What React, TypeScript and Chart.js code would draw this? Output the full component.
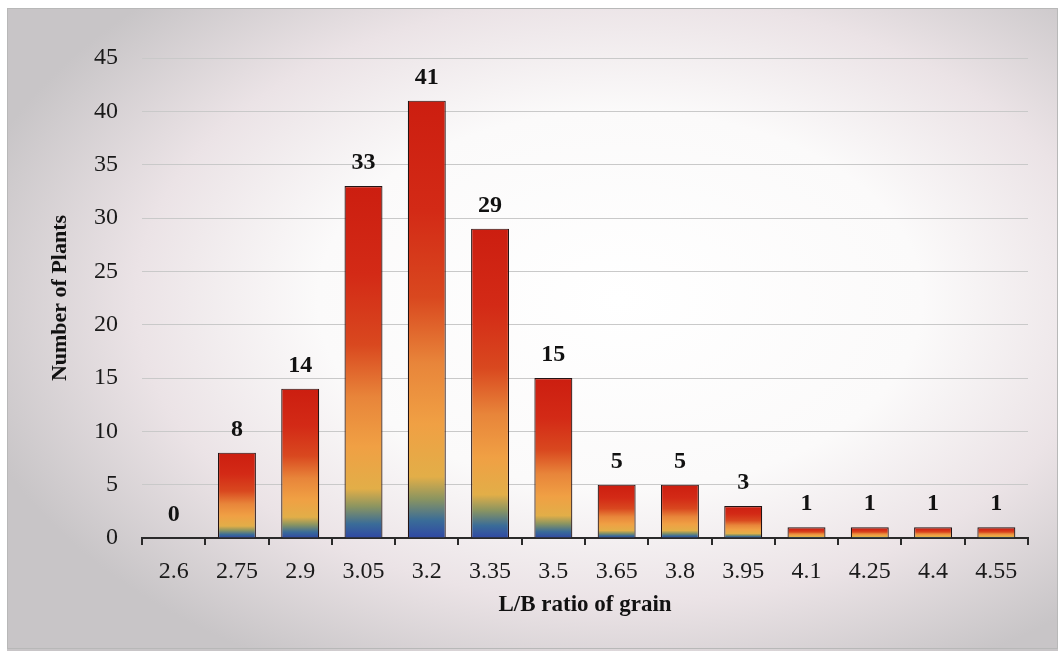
import React, { useEffect, useRef } from "react";
import { Chart, registerables } from "chart.js";

Chart.register(...registerables);

const categories = ["2.6", "2.75", "2.9", "3.05", "3.2", "3.35", "3.5", "3.65", "3.8", "3.95", "4.1", "4.25", "4.4", "4.55"];
const plantCounts = [0, 8, 14, 33, 41, 29, 15, 5, 5, 3, 1, 1, 1, 1];
const yTickStep = 5;
const yMax = 45;
const xTitle = "L/B ratio of grain";
const yTitle = "Number of Plants";

const FONT = "'Liberation Serif', 'Times New Roman', serif";

const gradientStops: [number, string][] = [
  [0, "#3048a4"],
  [0.04, "#3a6c98"],
  [0.09, "#8c9560"],
  [0.14, "#e2ae48"],
  [0.26, "#f0a044"],
  [0.4, "#e8853a"],
  [0.55, "#d9481f"],
  [0.75, "#d32a16"],
  [1, "#cc1e10"],
];

const backgroundPlugin = {
  id: "bgFrame",
  beforeDraw(chart: any) {
    const { ctx, width, height } = chart;
    ctx.save();
    ctx.fillStyle = "#ffffff";
    ctx.fillRect(0, 0, width, height);
    const cx = 620, cy = 300;
    ctx.translate(cx, cy);
    ctx.scale(1.6, 1);
    const g = ctx.createRadialGradient(0, 0, 0, 0, 0, 420);
    g.addColorStop(0, "#ffffff");
    g.addColorStop(0.45, "#fbfafa");
    g.addColorStop(0.72, "#ebe3e6");
    g.addColorStop(1, "#c8c5c7");
    ctx.fillStyle = g;
    ctx.fillRect(-cx / 1.6 - 10, -cy - 10, width / 1.6 + 20, height + 20);
    ctx.restore();
    ctx.save();
    ctx.fillStyle = "#ffffff";
    ctx.fillRect(0, 0, width, 8);
    ctx.fillRect(0, 0, 7, height);
    ctx.fillRect(1058, 0, width - 1058, height);
    ctx.strokeStyle = "#b8b8b8";
    ctx.lineWidth = 1;
    ctx.strokeRect(7.5, 8.5, 1050, 640);
    ctx.restore();
  },
};

const dataLabelPlugin = {
  id: "dataLabels",
  afterDatasetsDraw(chart: any) {
    const { ctx } = chart;
    const meta = chart.getDatasetMeta(0);
    ctx.save();
    ctx.font = `bold 24px ${FONT}`;
    ctx.fillStyle = "#111111";
    ctx.textAlign = "center";
    ctx.textBaseline = "alphabetic";
    meta.data.forEach((bar: any, i: number) => {
      ctx.fillText(String(plantCounts[i]), bar.x, bar.y - 17);
    });
    ctx.restore();
  },
};

export default function App() {
  const canvasRef = useRef<HTMLCanvasElement | null>(null);

  useEffect(() => {
    const canvas = canvasRef.current;
    if (!canvas) return;
    const chart = new Chart(canvas, {
      type: "bar",
      data: {
        labels: categories,
        datasets: [
          {
            data: plantCounts,
            backgroundColor: (c: any) => {
              const ch = c.chart;
              if (!ch.chartArea || c.raw === undefined) return "#d02a14";
              const ys = ch.scales.y;
              const top = ys.getPixelForValue(c.raw);
              const bottom = ys.getPixelForValue(0);
              if (Math.abs(bottom - top) < 1) return "#d02a14";
              const g = ch.ctx.createLinearGradient(0, bottom, 0, top);
              gradientStops.forEach(([o, col]) => g.addColorStop(o, col));
              return g;
            },
            borderColor: "#241414",
            borderWidth: 1.2,
            borderSkipped: "bottom",
            categoryPercentage: 1,
            barPercentage: 0.6,
          },
        ],
      },
      options: {
        responsive: false,
        animation: false,
        layout: { padding: { left: 0, right: 35, top: 58, bottom: 32 } },
        plugins: {
          legend: { display: false },
          tooltip: { enabled: false },
        },
        scales: {
          x: {
            offset: true,
            grid: {
              offset: true,
              drawOnChartArea: false,
              drawTicks: true,
              tickLength: 7,
              color: "#2a2a2a",
              lineWidth: 2,
            },
            border: { display: true, color: "#2a2a2a", width: 2 },
            ticks: {
              padding: 12,
              color: "#1a1a1a",
              font: { family: FONT, size: 24 },
              maxRotation: 0,
              autoSkip: false,
            },
            title: {
              display: true,
              text: xTitle,
              color: "#111",
              font: { family: FONT, size: 23, weight: "bold" },
              padding: { top: 0, bottom: 0 },
            },
            afterFit: (s: any) => {
              s.height = 81;
            },
          },
          y: {
            min: 0,
            max: yMax,
            ticks: {
              stepSize: yTickStep,
              padding: 24,
              color: "#1a1a1a",
              font: { family: FONT, size: 24 },
            },
            grid: { color: "#c9c9c9", lineWidth: 1, drawTicks: false },
            border: { display: false },
            title: {
              display: true,
              text: yTitle,
              color: "#111",
              font: { family: FONT, size: 22, weight: "bold" },
              padding: { top: 47, bottom: 0 },
            },
            afterFit: (s: any) => {
              s.width = 142;
            },
          },
        },
      },
      plugins: [backgroundPlugin, dataLabelPlugin],
    } as any);
    return () => chart.destroy();
  }, []);

  return (
    <div style={{ position: "fixed", left: 0, top: 0, width: 1063, height: 651, overflow: "hidden" }}>
      <canvas ref={canvasRef} width={1063} height={651} style={{ display: "block", width: 1063, height: 651 }} />
    </div>
  );
}
